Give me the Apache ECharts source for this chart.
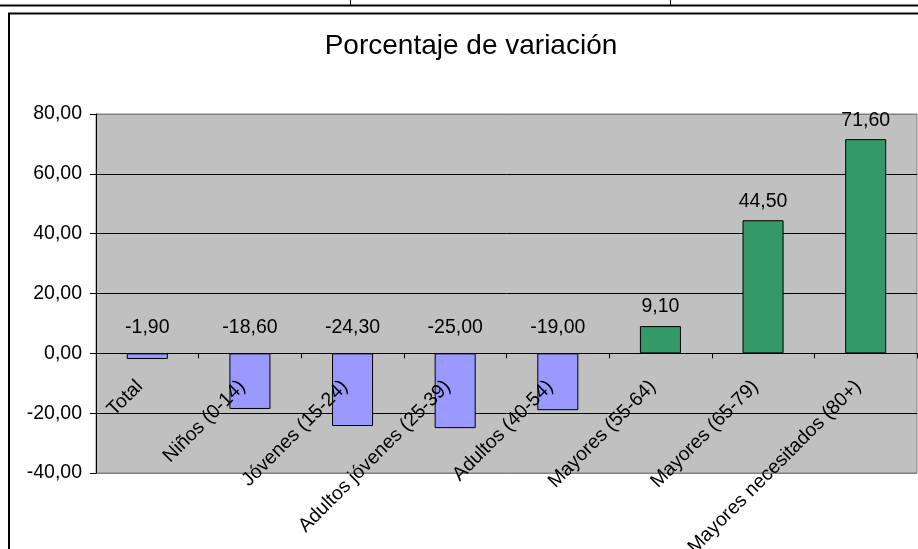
<!DOCTYPE html>
<html>
<head>
<meta charset="utf-8">
<script src="https://cdn.jsdelivr.net/npm/echarts@6/dist/echarts.min.js"></script>
<style>
html,body{margin:0;padding:0;background:#fff;}
#c{width:918px;height:549px;}
</style>
</head>
<body>
<div id="c"></div>
<script>
var categories = ['Total', 'Niños (0-14)', 'Jóvenes (15-24)', 'Adultos jóvenes (25-39)', 'Adultos (40-54)', 'Mayores (55-64)', 'Mayores (65-79)', 'Mayores necesitados (80+)'];
var values = [-1.9, -18.6, -24.3, -25.0, -19.0, 9.1, 44.5, 71.6];
var yTicks = { min: -40, max: 80, interval: 20 };
var titleText = 'Porcentaje de variación';
var tableTexts = ['Mayores necesitados (80+)', '71,6', '44,5'];

var FONT = '"Liberation Sans", Arial, sans-serif';
var FS = 19.5;
function fmt(v) { return v.toFixed(2).replace('.', ','); }

var data = values.map(function (v) {
  return {
    value: v,
    itemStyle: { color: v < 0 ? '#9999FF' : '#339966' },
    label: v < 0 ? { offset: [0, -7] } : {}
  };
});

var chart = echarts.init(document.getElementById('c'), null, { renderer: 'canvas' });
chart.setOption({
  animation: false,
  backgroundColor: '#ffffff',
  grid: {
    left: 96, right: 1, top: 114, bottom: 76,
    show: true, backgroundColor: '#C0C0C0', borderColor: '#808080', borderWidth: 1,
    containLabel: false, outerBoundsMode: 'none'
  },
  xAxis: {
    type: 'category',
    data: categories,
    z: 5,
    axisLine: { onZero: true, lineStyle: { color: '#000', width: 1 } },
    axisTick: { show: true, interval: 0, length: 5, lineStyle: { color: '#000' } },
    axisLabel: {
      interval: 0, rotate: 45, margin: -97, fontSize: FS, color: '#000', fontFamily: FONT, hideOverlap: false,
      formatter: function (v) { return v + '  '; }
    },
    splitLine: { show: false }
  },
  yAxis: {
    type: 'value',
    min: yTicks.min, max: yTicks.max, interval: yTicks.interval,
    axisLine: { show: true, lineStyle: { color: '#000', width: 1 } },
    axisTick: { show: true, length: 6, lineStyle: { color: '#000' } },
    axisLabel: { margin: 14, fontSize: FS, color: '#000', fontFamily: FONT, formatter: fmt },
    splitLine: { show: true, lineStyle: { color: ['#808080', '#000', '#000', '#000', '#000', '#000', '#808080'], width: 1 } }
  },
  series: [{
    type: 'bar',
    data: data,
    barWidth: '40%',
    itemStyle: { borderColor: '#000', borderWidth: 1 },
    label: {
      show: true, position: 'top', distance: 9,
      fontSize: FS, color: '#000', fontFamily: FONT,
      formatter: function (p) { return fmt(p.value); }
    }
  }],
  graphic: [
    { type: 'line', shape: { x1: 0, y1: 5.5, x2: 918, y2: 5.5 }, style: { stroke: '#000', lineWidth: 2 } },
    { type: 'line', shape: { x1: 350.5, y1: 0, x2: 350.5, y2: 6 }, style: { stroke: '#000', lineWidth: 1 } },
    { type: 'line', shape: { x1: 670.5, y1: 0, x2: 670.5, y2: 6 }, style: { stroke: '#000', lineWidth: 1 } },
    { type: 'text', x: 218, y: 0, style: { text: tableTexts[0], fontSize: 18, fontFamily: FONT, fill: '#000', textAlign: 'right', textVerticalAlign: 'bottom' } },
    { type: 'text', x: 377, y: 0, style: { text: tableTexts[1], fontSize: 18, fontFamily: FONT, fill: '#000', textAlign: 'left', textVerticalAlign: 'bottom' } },
    { type: 'text', x: 737, y: 0, style: { text: tableTexts[2], fontSize: 18, fontFamily: FONT, fill: '#000', textAlign: 'left', textVerticalAlign: 'bottom' } },
    { type: 'rect', shape: { x: 9, y: 13.5, width: 1200, height: 1000 }, style: { fill: 'none', stroke: '#000', lineWidth: 2 } },
    { type: 'text', x: 471, y: 32, style: { text: titleText, fontSize: 28, fontFamily: FONT, fill: '#000', textAlign: 'center', textVerticalAlign: 'top' } }
  ]
});
</script>
</body>
</html>
